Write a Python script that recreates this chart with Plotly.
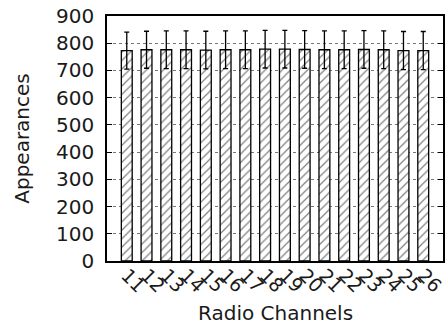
import plotly.graph_objects as go

channels = ["11", "12", "13", "14", "15", "16", "17", "18", "19", "20", "21", "22", "23", "24", "25", "26"]
appearances = [773, 776, 776, 776, 775, 776, 776, 778, 778, 777, 776, 776, 777, 776, 773, 773]
errors = [68, 68, 69, 69, 69, 69, 69, 69, 69, 69, 69, 69, 69, 69, 70, 70]
y_ticks = [0, 100, 200, 300, 400, 500, 600, 700, 800, 900]

font = "DejaVu Sans"

fig = go.Figure()
fig.add_trace(go.Bar(
    x=channels,
    y=appearances,
    width=0.55,
    marker=dict(
        color="white",
        line=dict(color="black", width=1.3),
        pattern=dict(shape="/", fgcolor="black", bgcolor="white", size=6, solidity=0.2),
    ),
    error_y=dict(type="data", array=errors, visible=True, color="black", thickness=1.3, width=2.5),
))

fig.update_layout(
    width=447, height=327,
    margin=dict(l=107, r=4, t=16, b=66),
    plot_bgcolor="white", paper_bgcolor="white",
    showlegend=False,
    font=dict(family=font, size=20, color="#1a1a1a"),
)
fig.add_annotation(
    text="Radio Channels", xref="paper", yref="paper", x=0.5, y=0,
    xanchor="center", yanchor="middle", yshift=-52, showarrow=False,
    font=dict(size=20),
)
fig.update_xaxes(
    type="category",
    range=[-1.0, 16.0],
    tickmode="array", tickvals=channels, ticktext=channels,
    tickangle=45,
    ticks="",
    ticklabelstandoff=-6,
    automargin=False,
    showline=True, linecolor="black", linewidth=1.5, mirror=True,
    showgrid=False,
    tickfont=dict(size=19),
)
fig.update_yaxes(
    range=[0, 900],
    tickvals=y_ticks,
    ticks="inside", ticklen=5, tickcolor="black", tickwidth=1,
    ticklabelstandoff=7,
    automargin=False,
    showline=True, linecolor="black", linewidth=1.5, mirror="ticks",
    showgrid=True, gridcolor="#777777", griddash="dot", gridwidth=1,
    zeroline=False,
    title=dict(text="Appearances", font=dict(size=20), standoff=21),
    tickfont=dict(size=20),
)

fig.write_html("out.html", config={"displayModeBar": False},
               post_script="document.body.style.margin='0';document.body.style.overflow='hidden';")
